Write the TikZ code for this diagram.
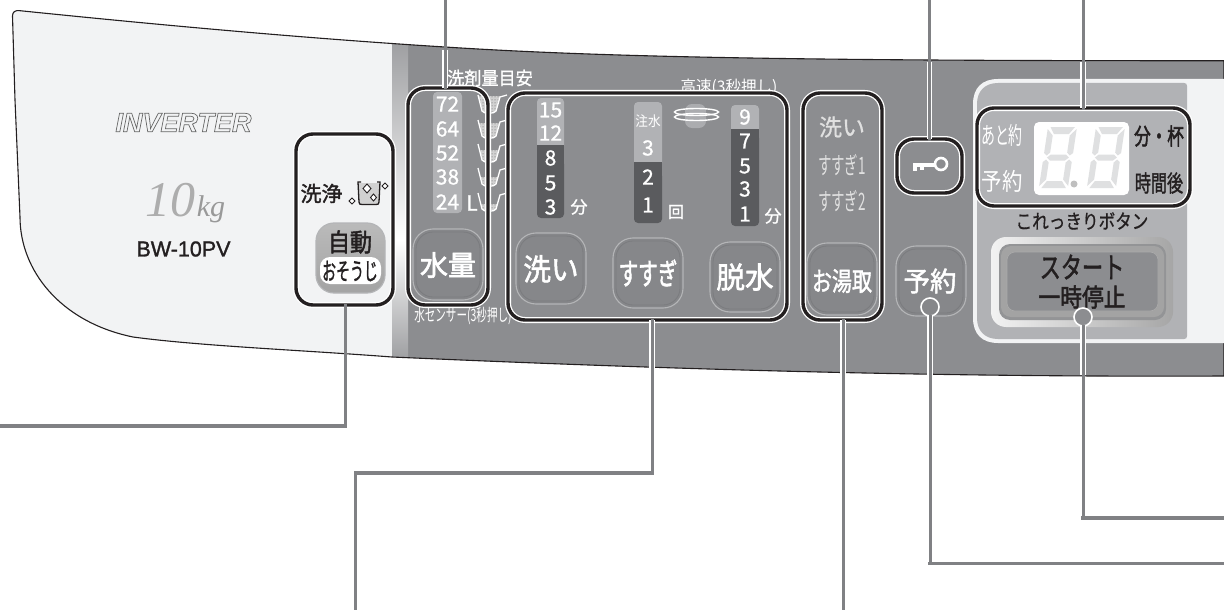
\documentclass[tikz,border=0pt]{standalone}
\usepackage{fontspec}
\usepackage{graphicx}
\setmainfont{Noto Sans CJK JP}
\newfontfamily\arialf{Liberation Sans}
\newfontfamily\timesf{Liberation Serif}
\usetikzlibrary{fit,patterns}
\definecolor{paneldark}{HTML}{8C8D90}
\definecolor{panellight}{HTML}{F2F3F4}
\definecolor{lead}{HTML}{808184}
\definecolor{barlight}{HTML}{B1B2B5}
\definecolor{bardark}{HTML}{5A5B5E}
\definecolor{inkk}{HTML}{231F20}
\definecolor{btnfill}{HTML}{86878A}
\definecolor{btnedge}{HTML}{B4B5B7}
\definecolor{segc}{HTML}{DFE0E1}
\newcommand\fsz[1]{\fontsize{#1}{#1}\selectfont}
\newcommand\sx[2]{\scalebox{#1}[1]{#2}}
\newcommand\hv[2][0.35]{\special{pdf:code 2 Tr #1 w}#2\special{pdf:code 0 Tr 1 w}}
\tikzset{
  lb/.style={inner sep=0pt,outer sep=0pt},
  num/.style={lb,text=white,font=\fsz{21}},
  wt/.style={lb,text=white},
  bk/.style={lb,text=inkk},
  grp/.style={lb,draw=inkk,line width=3.4pt,rounded corners=17pt,
    preaction={draw=white,line width=6pt}},
  btn/.style={lb,draw=btnedge,line width=1.1pt,fill=btnfill,rounded corners=20pt},
  inring/.style={draw=black!12!paneldark,line width=.8pt,rounded corners=17pt},
  ldv/.style={draw=white,line width=5.4pt},
  ld/.style={draw=lead,line width=3pt,line cap=rect},
  ldh/.style={draw=lead,line width=3.8pt,line cap=rect},
  seg/.style={fill=segc},
  dia/.style={draw=inkk,fill=white,line width=.9pt},
}
\def\panelpath{(12.5,16) .. controls (12.5,12) and (15,10) .. (20,10.7)
  .. controls (150,24) and (300,38) .. (445,47)
  .. controls (600,57) and (800,61) .. (1224,60.7)
  -- (1224,376) .. controls (1000,377) and (750,373) .. (392,357)
  .. controls (300,350) and (200,346) .. (133,337)
  .. controls (60,322) and (20,270) .. (20,217)
  -- (15,100) -- cycle}
\newcommand\digitsegs{%
  \fill[seg] (2.5,0)--(27,0)--(22,7)--(7,7)--cycle;
  \fill[seg] (2.5,61)--(27,61)--(22,54)--(7,54)--cycle;
  \fill[seg] (3.5,30.5)--(7,27.5)--(22,27.5)--(25.5,30.5)--(22,33.5)--(7,33.5)--cycle;
  \fill[seg] (0,2)--(6,8.5)--(6,25.5)--(3,28.5)--(0,26)--cycle;
  \fill[seg] (29,2)--(23,8.5)--(23,25.5)--(26,28.5)--(29,26)--cycle;
  \fill[seg] (0,59)--(6,52.5)--(6,35.5)--(3,32.5)--(0,35)--cycle;
  \fill[seg] (29,59)--(23,52.5)--(23,35.5)--(26,32.5)--(29,35)--cycle;
}
\newcommand\cupicon[3]{% x, top y, fill level
  \begin{scope}[shift={(#1,#2)}]
    \fill[black!18] (#3*.3,#3) -- (22-#3*.25,#3) -- (18,17) -- (5,17) -- cycle;
    \path[pattern=dots,pattern color=black!65] (#3*.3,#3) -- (22-#3*.25,#3) -- (18,17) -- (5,17) -- cycle;
    \draw[white,line width=1.3pt] (0,0) -- (4,16) .. controls (5,19) and (17,19) .. (18,16) -- (22,2) -- (29,0);
  \end{scope}}
\begin{document}
\begin{tikzpicture}[x=1pt,y=-1pt]
\useasboundingbox (0,0) rectangle (1224,610);
\fill[white] (0,0) rectangle (1224,610);
% panel body
\begin{scope}
  \clip \panelpath;
  \fill[panellight] (0,0) rectangle (392,400);
  \fill[paneldark] (408,0) rectangle (1224,400);
  \shade[top color=paneldark!85!white,bottom color=white] (392,40) rectangle (408,240);
  \shade[top color=white,bottom color=paneldark!85!white] (392,240) rectangle (408,360);
\end{scope}
\draw[inkk,line width=1.1pt] \panelpath;
% start / display bay
\fill[panellight] (1224,79) -- (998,79) .. controls (982,79) and (973,88) .. (973,104) -- (973,318) .. controls (973,334) and (982,343) .. (998,343) -- (1224,343) -- cycle;
\fill[barlight] (1184,83) -- (998,83) .. controls (985,83) and (977,91) .. (977,104) -- (977,318) .. controls (977,331) and (985,339) .. (998,339) -- (1184,339) .. controls (1186,339) and (1187,338) .. (1187,336) -- (1187,86) .. controls (1187,84) and (1186,83) .. (1184,83) -- cycle;
% left side labels
\node[lb,text=black!60,font=\arialf\bfseries\itshape\fsz{27}] (inv) at (183.5,122.5) {\special{pdf:code 1 Tr 0.7 w}INVERTER\special{pdf:code 0 Tr 1 w}};
\node[lb,text=black!32,font=\timesf\itshape\fsz{50}] (ten) at (170.5,200) {10};
\node[lb,text=black!40,font=\timesf\itshape\fsz{30}] (kg) at (211,209) {kg};
\node[bk,font=\arialf\fsz{21.5}] (model) at (183.5,249) {\hv[0.3]{BW-10PV}};
% wash icon
\node[bk,font=\fsz{21}] (senjo) at (321.5,193.5) {\hv{洗浄}};
\fill[black!18] (358,183) -- (380,183) -- (379,202) .. controls (379,204) and (378,204) .. (377,204) -- (361,204) .. controls (360,204) and (359,204) .. (359,202) -- cycle;
\draw[inkk,line width=1.3pt] (361,182) -- (358,182) -- (359,202) .. controls (359,204) and (360,204.5) .. (362,204.5) -- (376,204.5) .. controls (378,204.5) and (379,204) .. (379,202) -- (380,182) -- (377,182);
\draw[dia] (367,184) -- (371,188.5) -- (367,193) -- (363,188.5) -- cycle;
\draw[dia] (373.5,194) -- (376.5,197.5) -- (373.5,201) -- (370.5,197.5) -- cycle;
\draw[dia] (352,198) -- (355,201) -- (352,204) -- (349,201) -- cycle;
\draw[dia] (385,183) -- (388,186) -- (385,189) -- (382,186) -- cycle;
% auto button
\node[lb,draw=btnedge,line width=1.2pt,top color=black!27,bottom color=black!36,rounded corners=18pt,fit={(316,223) (385,293)}] (auto) {};
\node[bk,font=\fsz{25}] (jido) at (350,242) {\sx{.88}{\hv[0.5]{自動}}};
\node[lb,fill=white,rounded corners=10pt,fit={(320,257) (381,284)}] (pill) {};
\node[bk,font=\fsz{24}] (osouji) at (350,271) {\sx{.58}{\hv{おそうじ}}};
% water column
\fill[barlight,rounded corners=4pt] (433,92) rectangle (462,213);
\node[num] (n72) at (447.5,104) {\hv[0.2]{72}};
\node[num] (n64) at (447.5,129) {\hv[0.2]{64}};
\node[num] (n52) at (447.5,153) {\hv[0.2]{52}};
\node[num] (n38) at (447.5,177) {\hv[0.2]{38}};
\node[num] (n24) at (447.5,202) {\hv[0.2]{24}};
\node[num] (lit) at (472,203) {\hv[0.2]{L}};
\cupicon{478}{95}{1}\cupicon{478}{120}{3}\cupicon{478}{144}{6}\cupicon{478}{168}{9}\cupicon{478}{193}{11}
\node[wt,font=\fsz{18}] (detg) at (490,78) {\sx{.95}{\hv[0.2]{洗剤量目安}}};
\node[wt,font=\fsz{16}] (fast) at (729,87) {\sx{.97}{高速(3秒押し)}};
\node[wt,font=\fsz{17}] (sensor) at (463,316) {\sx{.62}{水センサー(3秒押し)}};
% wash column
\fill[barlight,rounded corners=4pt] (537,98) rectangle (564,150);
\fill[bardark,rounded corners=4pt] (537,160) rectangle (564,218);
\fill[bardark] (537,145) rectangle (564,165);
\node[num] (w15) at (550.5,110) {\hv[0.2]{15}};
\node[num] (w12) at (550.5,133) {\hv[0.2]{12}};
\node[num] (w8) at (550.5,158) {\hv[0.2]{8}};
\node[num] (w5) at (550.5,183) {\hv[0.2]{5}};
\node[num] (w3) at (550.5,207) {\hv[0.2]{3}};
\node[wt,font=\fsz{17}] (wmin) at (579,207) {\hv[0.2]{分}};
% rinse column
\fill[barlight,rounded corners=4pt] (634,102) rectangle (662,167);
\fill[bardark,rounded corners=4pt] (634,172) rectangle (662,223);
\fill[bardark] (634,162) rectangle (662,177);
\node[wt,font=\fsz{14}] (chusui) at (648,121) {\sx{.9}{注水}};
\node[num] (r3) at (648,148) {\hv[0.2]{3}};
\node[num] (r2) at (648,177) {\hv[0.2]{2}};
\node[num] (r1) at (648,205) {\hv[0.2]{1}};
\node[wt,font=\fsz{16}] (kai) at (676,212) {\hv[0.2]{回}};
% spin icon
\fill[barlight!85!paneldark,rounded corners=7pt] (685,104) rectangle (706,128);
\draw[white,line width=1.4pt] (696.5,112) ellipse [x radius=22,y radius=3.5];
\draw[white,line width=1.4pt] (696.5,117) ellipse [x radius=22,y radius=3.5];
% spin column
\fill[barlight,rounded corners=4pt] (731,105) rectangle (759,134);
\fill[bardark,rounded corners=4pt] (731,134) rectangle (759,226);
\fill[bardark] (731,129) rectangle (759,140);
\node[num] (s9) at (745,117) {\hv[0.2]{9}};
\node[num] (s7) at (745,141) {\hv[0.2]{7}};
\node[num] (s5) at (745,166) {\hv[0.2]{5}};
\node[num] (s3) at (745,189) {\hv[0.2]{3}};
\node[num] (s1) at (745,214) {\hv[0.2]{1}};
\node[wt,font=\fsz{17}] (smin) at (773,216) {\hv[0.2]{分}};
% buttons
\node[btn,fit={(413,229) (483,300)}] (water) {};
\node[btn,fit={(516,233) (586,304)}] (wash) {};
\node[btn,fit={(613,238) (683,308)}] (rinse) {};
\node[btn,fit={(710,242) (780,312)}] (spin) {};
\node[btn,fit={(807,243) (877,315)}] (bath) {};
\node[btn,fit={(896,246) (966,316)}] (timer) {};
\draw[inring] (416,232) rectangle (480,297);
\draw[inring] (519,236) rectangle (583,301);
\draw[inring] (616,241) rectangle (680,305);
\draw[inring] (713,245) rectangle (777,309);
\draw[inring] (810,246) rectangle (874,312);
\draw[inring] (899,249) rectangle (963,313);
\node[wt,font=\fsz{28}] (twater) at (448,265) {\hv[0.6]{水量}};
\node[wt,font=\fsz{30}] (twash) at (551,269) {\sx{.92}{\hv[0.6]{洗い}}};
\node[wt,font=\fsz{30}] (trinse) at (648,273) {\sx{.65}{\hv[0.6]{すすぎ}}};
\node[wt,font=\fsz{29.5}] (tspin) at (745,277) {\sx{.97}{\hv[0.6]{脱水}}};
\node[wt,font=\fsz{26}] (tbath) at (842,281) {\sx{.77}{\hv[0.5]{お湯取}}};
\node[wt,font=\fsz{27}] (ttimer) at (930,281) {\sx{.98}{\hv[0.5]{予約}}};
% course labels
\node[lb,text=black!12,font=\fsz{23}] (c1) at (842,127) {\hv[0.2]{洗い}};
\node[lb,text=black!12,font=\fsz{24}] (c2) at (842,165) {\sx{.56}{すすぎ1}};
\node[lb,text=black!12,font=\fsz{24}] (c3) at (842,201) {\sx{.56}{すすぎ2}};
% key icon
\draw[white,line width=2.6pt] (941,164) circle [radius=6];
\fill[white] (913,163) rectangle (935,167);
\fill[white] (913,167) rectangle (917,171);
\fill[white] (920,167) rectangle (924,170);
% display
\node[lb,fill=white,rounded corners=5pt,fit={(1034,122) (1129,195)}] (disp) {};
\begin{scope}[shift={(1048,127)},xslant=.15]\digitsegs\end{scope}
\begin{scope}[shift={(1096,127)},xslant=.15]\digitsegs\end{scope}
\fill[black!25] (1074,184) circle [radius=3.5];
\node[wt,font=\fsz{24}] (ato) at (1002,135) {\sx{.58}{あと約}};
\node[wt,font=\fsz{24}] (yoyaku) at (1002,181) {\sx{.85}{予約}};
\node[bk,font=\fsz{23}] (bun) at (1159,136) {\sx{.72}{\hv[0.6]{分・杯}}};
\node[bk,font=\fsz{23}] (jikan) at (1159,183) {\sx{.7}{\hv{時間後}}};
\node[bk,font=\fsz{20}] (kore) at (1082,221) {\sx{.83}{\hv[0.15]{これっきりボタン}}};
% start button
\node[lb,left color=white!95!black,right color=black!35,rounded corners=15pt,fit={(991,237) (1173,327)}] (startouter) {};
\node[lb,fill=lead!85!white,rounded corners=11pt,fit={(999,244) (1166,320)}] (startring) {};
\node[lb,fill=black!36,rounded corners=10pt,fit={(1001,246) (1164,317)}] (startmid) {};
\node[lb,fill=paneldark,draw=black!33,line width=.6pt,rounded corners=8pt,fit={(1007,252) (1158,311)}] (start) {};
\node[bk,font=\fsz{29}] (st1) at (1082,267) {\sx{.73}{\hv[0.5]{スタート}}};
\node[bk,font=\fsz{25}] (st2) at (1082,297) {\sx{.87}{\hv[0.5]{一時停止}}};
% leader ends
\coordinate (t1) at (445,0);
\coordinate (t2) at (929.5,0);
\coordinate (t3) at (1083,0);
\coordinate (b1) at (345,426);
\coordinate (b1e) at (0,426);
\coordinate (b2) at (652,473);
\coordinate (b2m) at (355.5,473);
\coordinate (b2e) at (355.5,610);
\coordinate (b3) at (843,610);
\coordinate (b4) at (930,563.5);
\coordinate (b4e) at (1224,563.5);
\coordinate (b5) at (1083,518);
\coordinate (b5e) at (1224,518);
% groups
\node[grp,fit={(296,134) (393,305)}] (g1) {};
\node[grp,fit={(408,88) (488,305)}] (g2) {};
\node[grp,fit={(508,93) (787,320)}] (g3) {};
\node[grp,fit={(803,93) (882,320)}] (g4) {};
\node[grp,fit={(897,139) (962,193)}] (g5) {};
\node[grp,fit={(977,108) (1190,206)}] (g6) {};
% hot spots
\node[lb,draw=white,line width=1.6pt,fill=btnfill,circle,minimum size=18pt] (h1) at (930,307) {};
\node[lb,draw=white,line width=1.6pt,fill=paneldark,circle,minimum size=18pt] (h2) at (1083,317) {};
% leaders: halos across the panel
\draw[ldv] (445,50) -- (t1 |- g2.north);
\draw[ldv] (929.5,62) -- (t2 |- g5.north);
\draw[ldv] (1083,62) -- (t3 |- g6.north);
\draw[ldv] (652,372) -- (b2 |- g3.south);
\draw[ldv] (843,375) -- (b3 |- g4.south);
\draw[ldv] (930,375) -- (h1.south);
\draw[ldv] (1083,375) -- (h2.south);
\draw[ld] (t1) -- (t1 |- g2.north);
\draw[ld] (t2) -- (t2 |- g5.north);
\draw[ld] (t3) -- (t3 |- g6.north);
\draw[ld] (b1) -- (b1 |- g1.south);
\draw[ldh] (b1) -- (b1e);
\draw[ld] (b2) -- (b2 |- g3.south);
\draw[ldh] (b2) -- (b2m);
\draw[ld] (b2m) -- (b2e);
\draw[ld] (b3) -- (b3 |- g4.south);
\draw[ld] (b4) -- (h1.south);
\draw[ldh] (b4) -- (b4e);
\draw[ld] (b5) -- (h2.south);
\draw[ldh] (b5) -- (b5e);
\end{tikzpicture}
\end{document}
